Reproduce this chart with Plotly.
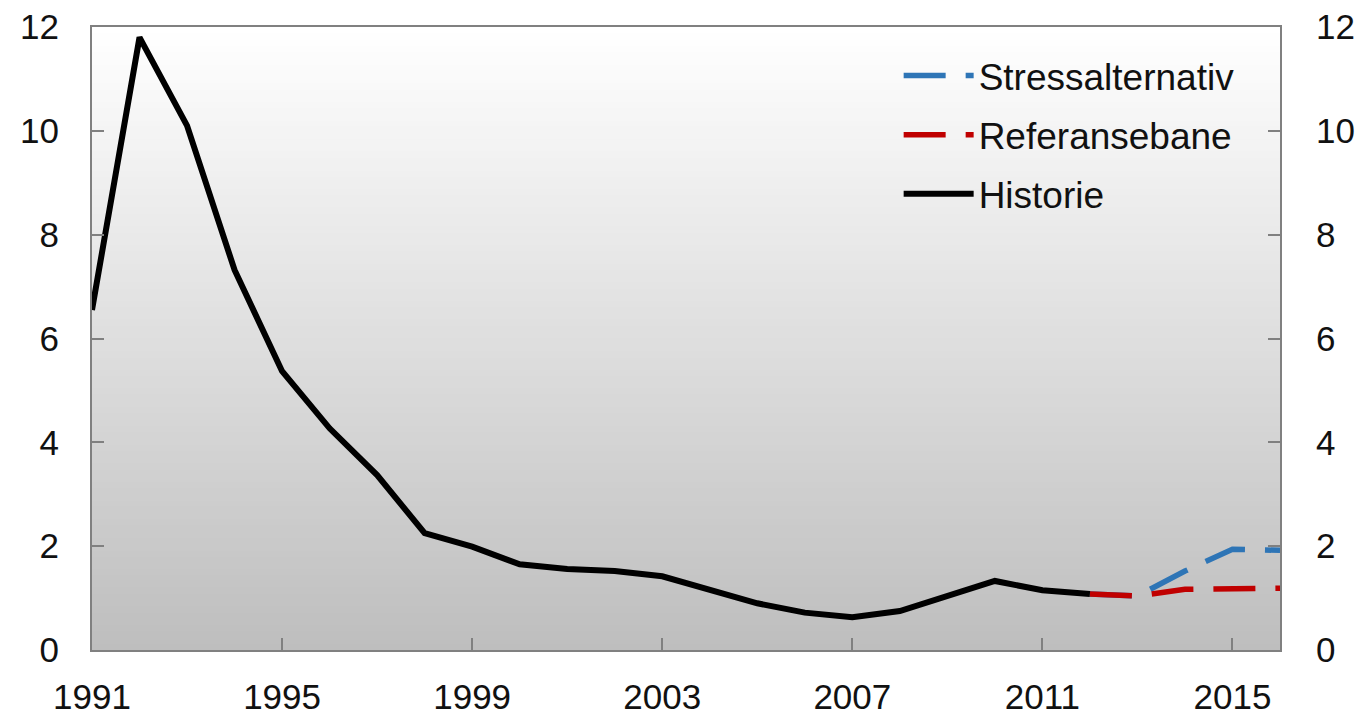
import plotly.graph_objects as go

# Historical series
hist_years = list(range(1991, 2013))
hist_values = [6.55, 11.8, 10.1, 7.32, 5.37, 4.27, 3.37, 2.25, 1.99, 1.65, 1.56,
               1.52, 1.42, 1.15, 0.90, 0.72, 0.63, 0.75, 1.04, 1.33, 1.15, 1.08]

# Projections
proj_years = [2012, 2013, 2014, 2015, 2016]
reference_values = [1.08, 1.04, 1.17, 1.19, 1.19]
stress_values = [1.08, 1.04, 1.52, 1.94, 1.92]

x_ticks = [1991, 1995, 1999, 2003, 2007, 2011, 2015]
y_ticks = [0, 2, 4, 6, 8, 10, 12]

FONT = "Liberation Sans"
AXIS_GREY = "#808080"
FS = 35

fig = go.Figure()

fig.add_trace(go.Scatter(
    x=proj_years, y=stress_values, name="Stressalternativ", mode="lines",
    legendgroup="s", line=dict(color="#2e75b6", width=5.5, dash="42px,20px"),
))
fig.add_trace(go.Scatter(
    x=proj_years, y=reference_values, name="Referansebane", mode="lines",
    legendgroup="r", line=dict(color="#c00000", width=5.5, dash="42px,20px"),
))
fig.add_trace(go.Scatter(
    x=hist_years, y=hist_values, name="Historie", mode="lines",
    legendgroup="h", line=dict(color="#000000", width=6),
))
# invisible trace to carry the right-hand axis
fig.add_trace(go.Scatter(x=[1991], y=[0], yaxis="y2", mode="markers",
                         marker=dict(opacity=0), showlegend=False, hoverinfo="skip"))

# vertical grey gradient behind the plot area (overlapping bands avoid seams)
n_bands = 100
shapes = []
top, bottom = 255, 190
h = 1 / n_bands
for i in range(n_bands):
    f = i / (n_bands - 1)
    g = round(top + (bottom - top) * f)
    shapes.append(dict(
        type="rect", xref="paper", yref="paper", layer="below",
        x0=0, x1=1, y0=max(0, 1 - (i + 1) * h - h), y1=1 - i * h,
        fillcolor=f"rgb({g},{g},{g})", line=dict(width=0),
    ))

fig.update_layout(
    width=1361, height=717,
    margin=dict(l=92, r=81, t=27, b=67),
    paper_bgcolor="white", plot_bgcolor="rgba(0,0,0,0)",
    font=dict(family=FONT, size=FS, color="#111111"),
    shapes=shapes,
    showlegend=True,
    legend=dict(x=0.679, y=0.971, xanchor="left", yanchor="top",
                bgcolor="rgba(0,0,0,0)", font=dict(size=37, family=FONT),
                itemwidth=70, tracegroupgap=8),
    xaxis=dict(
        range=[1991, 2016], tickvals=x_ticks, ticktext=[str(t) for t in x_ticks],
        ticks="inside", ticklen=12, tickwidth=1.5, tickcolor=AXIS_GREY,
        showline=True, linecolor=AXIS_GREY, linewidth=2, mirror=True,
        showgrid=False, zeroline=False, ticklabelstandoff=15, automargin=False,
    ),
    yaxis=dict(
        range=[0, 12], tickvals=y_ticks,
        ticks="inside", ticklen=12, tickwidth=1.5, tickcolor=AXIS_GREY,
        showline=True, linecolor=AXIS_GREY, linewidth=2, mirror=True,
        showgrid=False, zeroline=False, ticklabelstandoff=24, automargin=False,
    ),
    yaxis2=dict(
        range=[0, 12], tickvals=y_ticks, overlaying="y", side="right",
        ticks="inside", ticklen=12, tickwidth=1.5, tickcolor=AXIS_GREY,
        showline=False, showgrid=False, zeroline=False, ticklabelstandoff=35,
        automargin=False,
    ),
)

fig.write_html("out.html")
